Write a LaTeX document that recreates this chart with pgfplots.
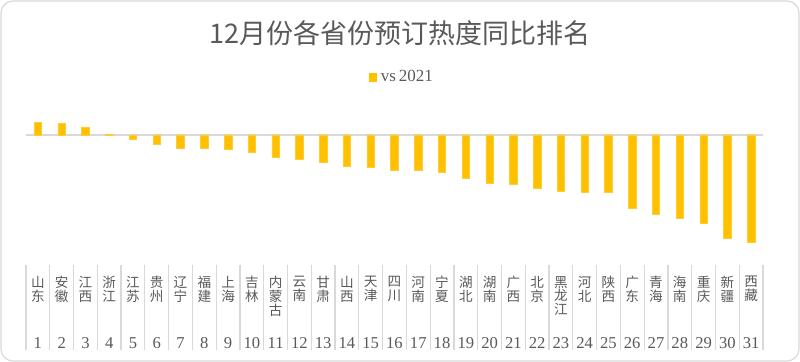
\documentclass[border=0pt]{standalone}
\usepackage{fontspec}
\setmainfont{Liberation Serif}
\newfontfamily\cjk{Noto Sans CJK SC}
\usepackage{pgfplots}
\pgfplotsset{compat=1.18}
\definecolor{bargold}{HTML}{FFC000}
\definecolor{txt}{HTML}{595959}
\definecolor{lgray}{HTML}{D9D9D9}
\begin{document}
\begin{tikzpicture}
\path (0,0) rectangle (400pt,181pt);
\draw[lgray, line width=0.6pt, rounded corners=6pt] (0.5pt,0.5pt) rectangle (399.5pt,180.5pt);
\node[font=\cjk\fontsize{13.5}{15}\selectfont, text=txt] at (200pt,164.5pt) {12月份各省份预订热度同比排名};
\begin{axis}[
  at={(13pt,48.5pt)}, anchor=south west,
  scale only axis, width=368.5pt, height=82.5pt,
  xmin=0.5, xmax=31.5, ymin=-130, ymax=35,
  clip=false,
  axis line style={draw=none},
  major tick length=0pt,
  ytick=\empty,
  xtick={1,...,31},
  xticklabels={{山\\东},{安\\徽},{江\\西},{浙\\江},{江\\苏},{贵\\州},{辽\\宁},{福\\建},{上\\海},{吉\\林},{内\\蒙\\古},{云\\南},{甘\\肃},{山\\西},{天\\津},{四\\川},{河\\南},{宁\\夏},{湖\\北},{湖\\南},{广\\西},{北\\京},{黑\\龙\\江},{河\\北},{陕\\西},{广\\东},{青\\海},{海\\南},{重\\庆},{新\\疆},{西\\藏}},
  xticklabel style={font=\cjk\fontsize{6.8}{6.8}\selectfont, text=txt, align=center, anchor=north, inner sep=0pt, yshift=-5.5pt},
  ybar, bar width=3.75pt,
  legend style={at={(0.5115,1.139)}, anchor=center, draw=none, fill=none, font=\fontsize{8.5}{10}\selectfont, text=txt, inner sep=1pt},
  legend image code/.code={\fill[bargold] (0pt,-1.9pt) rectangle (3.6pt,1.7pt);},
]
\draw[lgray, line width=0.9pt] (axis cs:0.5,0) -- (axis cs:31.5,0);
\addplot[fill=bargold, draw=bargold!80!white, line width=0.3pt] coordinates {
(1,12.7) (2,11.7) (3,7.7) (4,0.3) (5,-4) (6,-9.7) (7,-13) (8,-13.7) (9,-14.7) (10,-17.7)
(11,-22) (12,-24.3) (13,-27.7) (14,-31.7) (15,-32.7) (16,-35) (17,-35) (18,-37.3) (19,-43) (20,-48)
(21,-49.7) (22,-53) (23,-56) (24,-57) (25,-57) (26,-73.3) (27,-79) (28,-83.3) (29,-88.7) (30,-103.3) (31,-107)
};
\addlegendentry{vs\,2021}
\pgfplotsinvokeforeach{0.5,1.5,...,31.5}{
  \draw[lgray, line width=0.6pt] (axis cs:#1,-130) -- ++(0pt,-42.5pt);
}
\pgfplotsinvokeforeach{1,...,31}{
  \node[font=\fontsize{8.3}{9}\selectfont, text=txt] at (axis cs:#1,-130) [yshift=-39pt] {#1};
}
\end{axis}
\end{tikzpicture}
\end{document}
